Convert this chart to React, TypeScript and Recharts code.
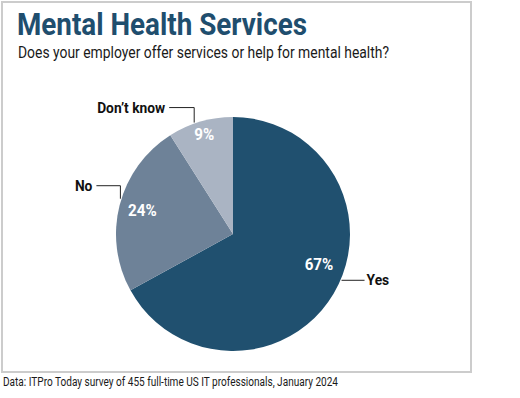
import React from "react";
import { PieChart, Pie, Cell } from "recharts";

const categories = ["Yes", "No", "Don\u2019t know"];
const values = [67, 24, 9];
const colors = ["#20506f", "#6e8298", "#aab4c3"];

const titleText = "Mental Health Services";
const subtitleText = "Does your employer offer services or help for mental health?";
const footerText = "Data: ITPro Today survey of 455 full-time US IT professionals, January 2024";

// leader line styling per slice (angle tweak in degrees, vertical rise, horizontal run)
const leaderStyle = [
  { angleOffset: 7.5, rise: 0, run: 23, pctAngleOffset: 11, pctR: 0.78 },
  { angleOffset: -3, rise: 13, run: -24, pctAngleOffset: 0, pctR: 0.8 },
  { angleOffset: 3, rise: 15, run: -25, pctAngleOffset: 0, pctR: 0.88 },
];

const data = categories.map((name, i) => ({ name, value: values[i] }));

const RADIAN = Math.PI / 180;
const FONT = "Roboto, 'Liberation Sans', sans-serif";

const renderLabel = (props: any) => {
  const { cx, cy, midAngle, outerRadius, index, value } = props;
  const st = leaderStyle[index];
  const pa = (midAngle + st.pctAngleOffset) * RADIAN;
  const pr = outerRadius * st.pctR;
  const px = cx + pr * Math.cos(pa);
  const py = cy - pr * Math.sin(pa);
  const la = (midAngle + st.angleOffset) * RADIAN;
  const ex = cx + (outerRadius + 1) * Math.cos(la);
  const ey = cy - (outerRadius + 1) * Math.sin(la);
  const my = ey - st.rise;
  const hx = ex + st.run;
  const right = st.run > 0;
  const tx = hx + (right ? 2 : -4);
  return (
    <g key={`lbl-${index}`}>
      <text
        transform={`translate(${px},${py}) scale(0.95,1)`}
        x={0}
        y={0}
        fill="#ffffff"
        textAnchor="middle"
        dominantBaseline="central"
        fontFamily={FONT}
        fontWeight="bold"
        fontSize={16}
      >
        {`${value}%`}
      </text>
      <polyline
        points={`${ex},${ey} ${ex},${my} ${hx},${my}`}
        fill="none"
        stroke="#222"
        strokeWidth={1}
      />
      <text
        transform={`translate(${tx},${my + 0.5}) scale(0.92,1)`}
        x={0}
        y={0}
        fill="#111"
        textAnchor={right ? "start" : "end"}
        dominantBaseline="central"
        fontFamily={FONT}
        fontWeight="bold"
        fontSize={15}
      >
        {categories[index]}
      </text>
    </g>
  );
};

export default function App() {
  return (
    <div style={{ position: "absolute", left: 0, top: 0, width: 520, height: 398, background: "#fff", overflow: "hidden" }}>
      <div
        style={{
          position: "absolute",
          left: 1,
          top: 1,
          width: 467,
          height: 368,
          border: "2px solid #cccccc",
        }}
      />
      <svg style={{ position: "absolute", left: 0, top: 0 }} width={520} height={398}>
        <text
          x={17}
          y={35}
          textLength={290}
          lengthAdjust="spacingAndGlyphs"
          fontFamily={FONT}
          fontWeight="bold"
          fontSize={32}
          fill="#1f4e6e"
        >
          {titleText}
        </text>
        <text
          x={18}
          y={58}
          textLength={371}
          lengthAdjust="spacingAndGlyphs"
          fontFamily={FONT}
          fontSize={16}
          fill="#1a1a1a"
        >
          {subtitleText}
        </text>
        <text
          x={3}
          y={386}
          textLength={335}
          lengthAdjust="spacingAndGlyphs"
          fontFamily={FONT}
          fontSize={12.5}
          fill="#1a1a1a"
        >
          {footerText}
        </text>
      </svg>
      <div style={{ position: "absolute", left: 0, top: 0 }}>
        <PieChart width={520} height={398} margin={{ top: 0, right: 0, bottom: 0, left: 0 }}>
          <Pie
            data={data}
            dataKey="value"
            nameKey="name"
            cx={233}
            cy={234}
            outerRadius={117}
            startAngle={90}
            endAngle={-270}
            stroke="none"
            isAnimationActive={false}
            label={renderLabel}
            labelLine={false}
          >
            {data.map((d, i) => (
              <Cell key={d.name} fill={colors[i]} />
            ))}
          </Pie>
        </PieChart>
      </div>
    </div>
  );
}
